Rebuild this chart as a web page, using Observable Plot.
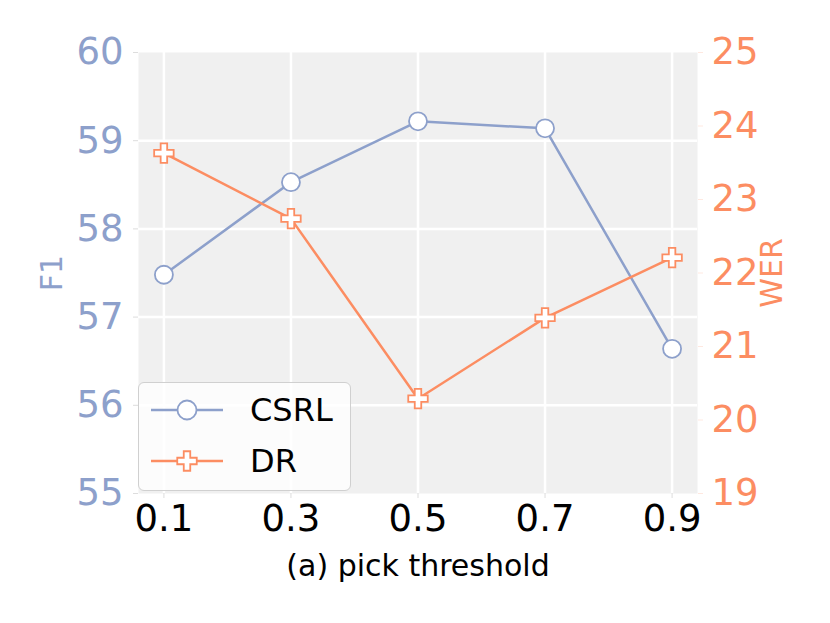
<!DOCTYPE html>
<html>
<head>
<meta charset="utf-8">
<script src="https://cdn.jsdelivr.net/npm/d3@7"></script>
<script src="https://cdn.jsdelivr.net/npm/@observablehq/plot@0.6"></script>
<style>
  html, body { margin: 0; padding: 0; background: #fff; }
  #wrap { position: relative; width: 830px; height: 623px; font-family: "DejaVu Sans", sans-serif; }
  #legend { position: absolute; left: 138px; top: 382px; width: 213px; height: 109px;
    background: rgba(255,255,255,0.8); border: 1.5px solid #d0d0d0; border-radius: 6px; box-sizing: border-box; }
  .row { position: absolute; left: 0; height: 40px; display: flex; align-items: center; }
  .row svg { margin-left: 12px; }
  .row span { margin-left: 27px; font-size: 32px; color: #000; }
</style>
</head>
<body>
<div id="wrap"></div>
<script>
const thresholds = [0.1, 0.3, 0.5, 0.7, 0.9];
const csrlF1 = [57.48, 58.53, 59.22, 59.14, 56.64];
const drWER = [23.63, 22.74, 20.29, 21.39, 22.21];
const f1Ticks = [55, 56, 57, 58, 59, 60];
const werTicks = [19, 20, 21, 22, 23, 24, 25];
const xTicks = [0.1, 0.3, 0.5, 0.7, 0.9];

const blue = "#8da0cb";
const orange = "#fc8d62";
const f1Domain = [55, 60];
const werDomain = [19, 25];
const toF1 = w => f1Domain[0] + (w - werDomain[0]) * (f1Domain[1] - f1Domain[0]) / (werDomain[1] - werDomain[0]);
const fromF1 = f => werDomain[0] + (f - f1Domain[0]) * (werDomain[1] - werDomain[0]) / (f1Domain[1] - f1Domain[0]);

const csrl = thresholds.map((t, i) => ({t, v: csrlF1[i]}));
const dr = thresholds.map((t, i) => ({t, v: toF1(drWER[i])}));

const chart = Plot.plot({
  width: 830,
  height: 623,
  marginLeft: 138,
  marginRight: 133,
  marginTop: 52,
  marginBottom: 130,
  style: { fontFamily: "DejaVu Sans, sans-serif", background: "#fff" },
  x: { domain: [0.06, 0.94] },
  y: { domain: f1Domain },
  marks: [
    Plot.frame({ fill: "#f0f0f0", stroke: "none" }),
    Plot.gridX(xTicks, { stroke: "#fff", strokeOpacity: 1, strokeWidth: 2.5 }),
    Plot.gridY([56, 57, 58, 59], { stroke: "#fff", strokeOpacity: 1, strokeWidth: 2.5 }),
    Plot.axisX(xTicks, { tickSize: 5, stroke: "#ddd", tickPadding: 6, fontSize: 37, fill: "#000", tickFormat: d => d.toFixed(1), label: null }),
    Plot.axisY(f1Ticks, { anchor: "left", tickSize: 5, stroke: "#ddd", tickPadding: 10, fontSize: 37, fill: blue, tickFormat: d => String(d), label: null }),
    Plot.axisY(werTicks.map(toF1), { anchor: "right", tickSize: 5, stroke: orange, strokeOpacity: 0.2, tickPadding: 9, fontSize: 37, fill: orange, tickFormat: d => String(Math.round(fromF1(d))), label: null }),
    Plot.text(["F1"], { frameAnchor: "left", textAnchor: "middle", dx: -86, rotate: -90, fontSize: 30, fill: blue }),
    Plot.text(["WER"], { frameAnchor: "right", textAnchor: "middle", dx: 75, rotate: -90, fontSize: 30, fill: orange }),
    Plot.text(["(a) pick threshold"], { frameAnchor: "bottom", dy: 82, fontSize: 30, fill: "#000" }),
    Plot.line(csrl, { x: "t", y: "v", stroke: blue, strokeWidth: 2.5 }),
    Plot.dot(csrl, { x: "t", y: "v", r: 9, fill: "#fff", stroke: blue, strokeWidth: 1.8 }),
    Plot.line(dr, { x: "t", y: "v", stroke: orange, strokeWidth: 2.5 }),
    Plot.dot(dr, { x: "t", y: "v", symbol: "cross", r: 8.2, fill: "#fff", stroke: orange, strokeWidth: 1.8 })
  ]
});

const wrap = document.getElementById("wrap");
wrap.appendChild(chart);

const legend = document.createElement("div");
legend.id = "legend";
const items = [
  { name: "CSRL", color: blue, shape: "circle", top: 7 },
  { name: "DR", color: orange, shape: "cross", top: 58 }
];
for (const it of items) {
  const row = document.createElement("div");
  row.className = "row";
  row.style.top = it.top + "px";
  const marker = it.shape === "circle"
    ? `<circle cx="36" cy="20" r="9.5" fill="#fff" stroke="${it.color}" stroke-width="1.8"/>`
    : `<path transform="translate(36,20)" d="${d3.symbol(d3.symbolCross, 211)()}" fill="#fff" stroke="${it.color}" stroke-width="1.8"/>`;
  row.innerHTML = `<svg width="72" height="40"><line x1="0" x2="72" y1="20" y2="20" stroke="${it.color}" stroke-width="2.5"/>${marker}</svg><span>${it.name}</span>`;
  legend.appendChild(row);
}
wrap.appendChild(legend);
</script>
</body>
</html>
